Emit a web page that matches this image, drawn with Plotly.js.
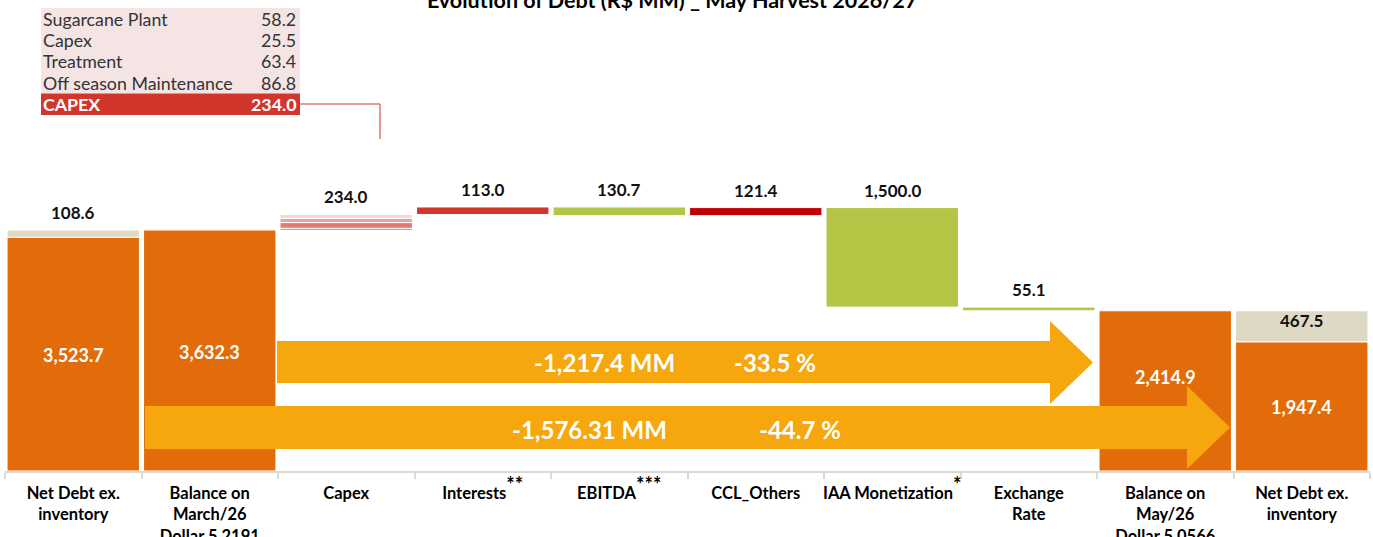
<!DOCTYPE html>
<html>
<head>
<meta charset="utf-8">
<script src="https://cdn.plot.ly/plotly-3.0.1.min.js"></script>
<style>html,body{margin:0;padding:0;background:#fff;}#chart{width:1373px;height:537px;}</style>
</head>
<body>
<div id="chart"></div>
<script>
// ---------------- DATA ----------------
const categories = ['netDebtStart','balanceMarch','capex','interests','ebitda','cclOthers','iaa','exchange','balanceMay','netDebtEnd'];
const STAR = s => '<sup><span style="font-size:20px">' + s + '</span></sup>';
const tickLabels = ['Net Debt ex.<br>inventory','Balance on<br>March/26<br>Dollar 5.2191','Capex','Interests' + STAR('**'),'EBITDA' + STAR('***'),'CCL_Others','IAA Monetization' + STAR('*'),'Exchange<br>Rate','Balance on<br>May/26<br>Dollar 5.0566','Net Debt ex.<br>inventory'];

const netDebtCats = ['netDebtStart','netDebtEnd'];
const netDebtExInventory = [3523.7, 1947.4];
const inventoryValues = [108.6, 467.5];

const balanceCats = ['balanceMarch','balanceMay'];
const balanceValues = [3632.3, 2414.9];

const stepCats = ['capex','interests','ebitda','cclOthers','iaa','exchange'];
const stepValues = [234.0, 113.0, -130.7, 121.4, -1500.0, -55.1];

const capexItems = ['Sugarcane Plant','Capex','Treatment','Off season Maintenance'];
const capexValues = [58.2, 25.5, 63.4, 86.8];
const capexTotalLabel = 'CAPEX';
const capexTotal = 234.0;

const arrowTexts = [['-1,217.4 MM','-33.5 %'],['-1,576.31 MM','-44.7 %']];

// ---------------- STYLE ----------------
const ORANGE = '#E36C0A', BEIGE = '#DDD9C4', RED = '#D0362B', DARKRED = '#C00000',
      GREEN = '#B4C444', ARROW = '#F5A70D', PINK = '#F4E4E4';
const stepColors = [null, RED, GREEN, DARKRED, GREEN, GREEN];
const capexColors = ['#F8D5D3', '#BF2F25', '#EBA19C', '#E47A72']; // per capexItems
const capexStackOrder = [1, 3, 2, 0]; // bottom -> top
const FONT = 'Lato, "Open Sans", sans-serif';
const W = 1373, H = 537, L = 5, R = 3, T = 0, B = 66;
const PW = W - L - R, PH = H - T - B;
const X = px => (px - L) / PW;
const Y = py => (PH + T - py) / PH;
const fmt = v => v.toLocaleString('en-US', {minimumFractionDigits: 1, maximumFractionDigits: 1});

const line = {color: '#FFFFFF', width: 1};
const traces = [];
const annotations = [];

// totals (orange)
traces.push({type: 'bar', x: netDebtCats.concat(balanceCats), y: netDebtExInventory.concat(balanceValues),
  base: [0,0,0,0], marker: {color: ORANGE, line}, hoverinfo: 'none'});
// inventory (beige)
traces.push({type: 'bar', x: netDebtCats, y: inventoryValues, base: netDebtExInventory,
  marker: {color: BEIGE, line}, hoverinfo: 'none'});

// steps
let running = balanceValues[0];
const stepTops = [];
stepCats.forEach((c, i) => {
  const v = stepValues[i];
  const lo = Math.min(running, running + v), hi = Math.max(running, running + v);
  stepTops.push(hi);
  if (c === 'capex') {
    let b = lo;
    capexStackOrder.forEach(k => {
      traces.push({type: 'bar', x: [c], y: [capexValues[k]], base: [b], name: capexItems[k],
        marker: {color: capexColors[k], line}, hoverinfo: 'none'});
      b += capexValues[k];
    });
  } else {
    traces.push({type: 'bar', x: [c], y: [hi - lo], base: [lo], marker: {color: stepColors[i], line}, hoverinfo: 'none'});
  }
  running += v;
});

// value labels above steps
stepCats.forEach((c, i) => {
  annotations.push({x: c, y: stepTops[i], xref: 'x', yref: 'y', yanchor: 'bottom', yshift: 5,
    text: fmt(Math.abs(stepValues[i])), showarrow: false, font: {family: FONT, size: 17, color: '#111', weight: 'bold'}});
});
// inventory labels
annotations.push({x: netDebtCats[0], y: netDebtExInventory[0] + inventoryValues[0], xref: 'x', yref: 'y', yanchor: 'bottom', yshift: 5,
  text: fmt(inventoryValues[0]), showarrow: false, font: {family: FONT, size: 17, color: '#111', weight: 'bold'}});
annotations.push({x: netDebtCats[1], y: netDebtExInventory[1] + inventoryValues[1] / 2, xref: 'x', yref: 'y', yanchor: 'middle', yshift: 6,
  text: fmt(inventoryValues[1]), showarrow: false, font: {family: FONT, size: 17, color: '#111', weight: 'bold'}});
// inside labels
const insideCats = netDebtCats.concat(balanceCats);
const insideVals = netDebtExInventory.concat(balanceValues);
const insideShift = [0, 0, 0, 15];
insideCats.forEach((c, i) => {
  annotations.push({x: c, y: insideVals[i] / 2, xref: 'x', yref: 'y', yanchor: 'middle', yshift: -1 + insideShift[i],
    text: fmt(insideVals[i]), showarrow: false, font: {family: FONT, size: 18, color: '#FFFFFF', weight: 'bold'}});
});

// arrows
const shapes = [];
function arrowPath(x0, xh, xt, bt, bb, ht, hb) {
  const yc = (ht + hb) / 2;
  return `M ${X(x0)},${Y(bb)} L ${X(xh)},${Y(bb)} L ${X(xh)},${Y(hb)} L ${X(xt)},${Y(yc)} L ${X(xh)},${Y(ht)} L ${X(xh)},${Y(bt)} L ${X(x0)},${Y(bt)} Z`;
}
shapes.push({type: 'path', xref: 'paper', yref: 'paper', layer: 'above', path: arrowPath(277, 1050, 1093, 341, 383, 321, 404), fillcolor: ARROW, line: {width: 0}});
shapes.push({type: 'path', xref: 'paper', yref: 'paper', layer: 'above', path: arrowPath(145, 1187, 1230, 406, 449, 386, 469), fillcolor: ARROW, line: {width: 0}});
const arrowTextPos = [[[604, 362], [775, 362]], [[589, 429], [800, 429]]];
arrowTexts.forEach((pair, a) => pair.forEach((t, j) => {
  annotations.push({xref: 'paper', yref: 'paper', x: X(arrowTextPos[a][j][0]), y: Y(arrowTextPos[a][j][1]), xanchor: 'center', yanchor: 'middle',
    text: t, showarrow: false, font: {family: FONT, size: 24, color: '#FFFFFF', weight: 'bold'}});
}));

// capex breakdown table
const tX0 = 41, tX1 = 300, tY0 = 8, rowH = 21.4;
const nRows = capexItems.length + 1;
shapes.push({type: 'rect', xref: 'paper', yref: 'paper', layer: 'above', x0: X(tX0), x1: X(tX1), y0: Y(tY0), y1: Y(tY0 + rowH * capexItems.length), fillcolor: PINK, line: {width: 0}});
shapes.push({type: 'rect', xref: 'paper', yref: 'paper', layer: 'above', x0: X(tX0), x1: X(tX1), y0: Y(tY0 + rowH * capexItems.length), y1: Y(tY0 + rowH * nRows), fillcolor: RED, line: {width: 0}});
const rowLabels = capexItems.concat([capexTotalLabel]);
const rowVals = capexValues.concat([capexTotal]);
rowLabels.forEach((lab, i) => {
  const yc = Y(tY0 + rowH * (i + 0.5));
  const isTot = i === capexItems.length;
  const f = {family: FONT, size: 17.8, color: isTot ? '#FFFFFF' : '#333333', weight: isTot ? 'bold' : 'normal'};
  annotations.push({xref: 'paper', yref: 'paper', x: X(tX0), y: yc, xanchor: 'left', yanchor: 'middle', text: lab, showarrow: false, font: f});
  annotations.push({xref: 'paper', yref: 'paper', x: X(tX1 - 2), y: yc, xanchor: 'right', yanchor: 'middle', text: fmt(rowVals[i]), showarrow: false, font: f});
});
// connector
shapes.push({type: 'path', xref: 'paper', yref: 'paper', layer: 'above',
  path: `M ${X(300)},${Y(104)} L ${X(380)},${Y(104)} L ${X(380)},${Y(139)}`, line: {color: RED, width: 1}});

const layout = {
  width: W, height: H,
  margin: {l: L, r: R, t: T, b: B},
  paper_bgcolor: '#FFFFFF', plot_bgcolor: '#FFFFFF',
  barmode: 'overlay', bargap: 0.03,
  showlegend: false,
  title: {text: 'Evolution of Debt (R$ MM) _ May Harvest 2026/27', xref: 'container', yref: 'container', x: 672 / W, xanchor: 'center', y: 1 - 0.5 / H, yanchor: 'middle',
    font: {family: FONT, size: 21.5, color: '#000', weight: 'bold'}},
  xaxis: {type: 'category', categoryorder: 'array', categoryarray: categories, tickmode: 'array', tickvals: categories, ticktext: tickLabels,
    tickson: 'boundaries', ticks: 'outside', ticklen: 6, tickwidth: 2, tickcolor: '#D9D9D9', tickangle: 0, ticklabelstandoff: 6,
    showline: true, linecolor: '#D9D9D9', linewidth: 2, showgrid: false, zeroline: false, fixedrange: true,
    tickfont: {family: FONT, size: 16.5, color: '#000', weight: 'bold'}},
  yaxis: {visible: false, range: [0, PH / 0.06635], fixedrange: true},
  shapes, annotations,
  font: {family: FONT}
};
Plotly.newPlot('chart', traces, layout, {displayModeBar: false, staticPlot: true});
</script>
</body>
</html>
